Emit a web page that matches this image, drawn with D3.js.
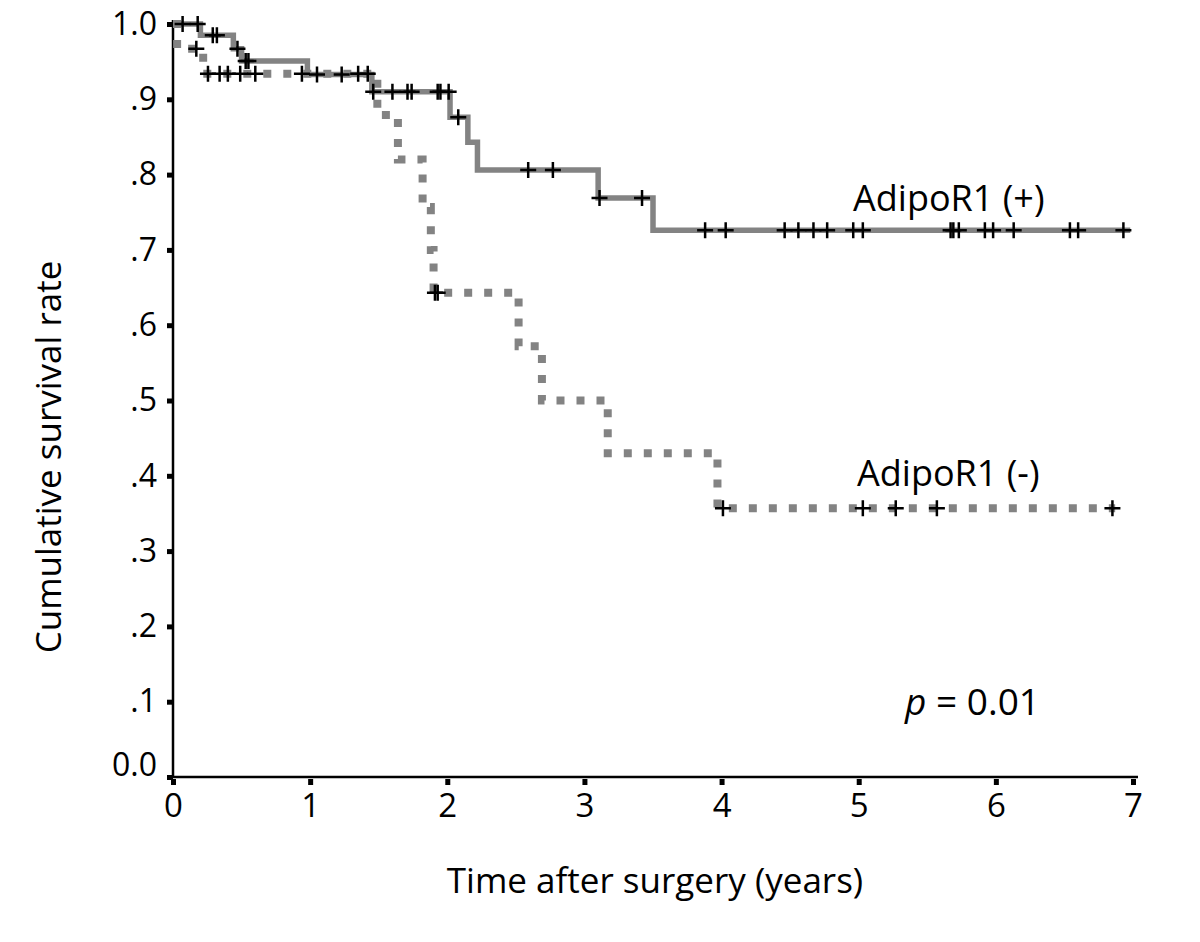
<!DOCTYPE html>
<html>
<head>
<meta charset="utf-8">
<script src="https://cdn.jsdelivr.net/npm/d3@7"></script>
<style>
  body { margin: 0; background: #fff; }
  text { font-family: "Open Sans", sans-serif; fill: #000; }
</style>
</head>
<body>
<svg id="km"></svg>
<script>
// AdipoR1 (+) group: step times (years) and survival after each step
const posTimes = [0, 0.20, 0.44, 0.50, 0.98, 1.45, 2.02, 2.15, 2.22, 3.10, 3.50];
const posSurv  = [1.0, 0.985, 0.967, 0.951, 0.933, 0.910, 0.876, 0.843, 0.806, 0.769, 0.726];
const posEnd = 6.98;
const posCensor = [0.07, 0.18, 0.29, 0.32, 0.47, 0.53, 0.55, 1.05, 1.23, 1.46, 1.60, 1.71, 1.74,
                   1.93, 1.95, 2.01, 2.08, 2.59, 2.77, 3.11, 3.42, 3.88, 4.03, 4.46, 4.56, 4.67,
                   4.77, 4.96, 5.03, 5.67, 5.69, 5.73, 5.92, 5.98, 6.13, 6.54, 6.60, 6.93];

// AdipoR1 (-) group
const negTimes = [0, 0.03, 0.22, 1.49, 1.64, 1.82, 1.88, 1.90, 2.52, 2.69, 3.17, 3.97];
const negSurv  = [1.0, 0.967, 0.934, 0.879, 0.820, 0.757, 0.700, 0.643, 0.572, 0.500, 0.430, 0.357];
const negEnd = 6.87;
const negCensor = [0.17, 0.255, 0.34, 0.40, 0.49, 0.60, 0.94, 1.35, 1.42, 1.91, 1.93,
                   4.01, 5.03, 5.27, 5.57, 6.85];

// axes
const xTicks = [0, 1, 2, 3, 4, 5, 6, 7];
const yTicks = [0, 0.1, 0.2, 0.3, 0.4, 0.5, 0.6, 0.7, 0.8, 0.9, 1.0];
const yTickLabels = ["0.0", ".1", ".2", ".3", ".4", ".5", ".6", ".7", ".8", ".9", "1.0"];

let km = {
    width: 1200,
    height: 942,
    xScale: d3.scaleLinear().domain([0, 7]).range([173, 1133]),
    yScale: d3.scaleLinear().domain([0, 1]).range([777, 24]),

    // survival value at time t, read from the step arrays
    survAt: (times, surv, t) => {
        let s = surv[0];
        for (let i = 0; i < times.length; i++) {
            if (times[i] <= t) s = surv[i];
        }
        return s;
    },

    drawAxis: (svg) => {
        let x = km.xScale, y = km.yScale;

        let axis_x = d3.axisBottom(x).tickValues(xTicks).tickSize(8).tickPadding(9).tickFormat(d => d);
        let gx = svg.append('g')
            .attr('transform', `translate(0, ${y(0)})`)
            .call(axis_x);
        gx.select('.domain').remove();
        gx.selectAll('.tick line').attr('stroke', '#000').attr('stroke-width', 5).attr('y1', 2);
        gx.selectAll('.tick text').attr('font-size', 33).attr('font-family', '"Open Sans", sans-serif');

        let axis_y = d3.axisLeft(y).tickValues(yTicks).tickSize(6).tickPadding(10)
            .tickFormat((d, i) => yTickLabels[i]);
        let gy = svg.append('g')
            .attr('transform', `translate(${x(0)}, 0)`)
            .call(axis_y);
        gy.select('.domain').remove();
        gy.selectAll('.tick line').attr('stroke', '#000').attr('stroke-width', 5);
        gy.selectAll('.tick text').attr('font-size', 32).attr('font-family', '"Open Sans", sans-serif');
        // the 0.0 label sits a bit above its tick
        gy.selectAll('.tick text').filter(d => d === 0).attr('dy', '-0.05em');

        // axis lines
        svg.append('line')
            .attr('x1', x(0)).attr('x2', 1138)
            .attr('y1', y(0)).attr('y2', y(0))
            .attr('stroke', '#000').attr('stroke-width', 2.5);
        svg.append('line')
            .attr('x1', x(0)).attr('x2', x(0))
            .attr('y1', y(0) + 1).attr('y2', y(1) - 4)
            .attr('stroke', '#000').attr('stroke-width', 2.5);

        // axis titles
        svg.append('text')
            .attr('x', 655).attr('y', 893)
            .attr('text-anchor', 'middle')
            .attr('font-size', 35)
            .text('Time after surgery (years)');
        svg.append('text')
            .attr('transform', 'translate(61, 457) rotate(-90)')
            .attr('text-anchor', 'middle')
            .attr('font-size', 35)
            .text('Cumulative survival rate');
    },

    drawCurve: (svg, times, surv, end, dashed) => {
        let pts = times.map((t, i) => [t, surv[i]]);
        pts.push([end, surv[surv.length - 1]]);
        let line = d3.line()
            .x(d => km.xScale(d[0]))
            .y(d => km.yScale(d[1]))
            .curve(d3.curveStepAfter);
        svg.append('path')
            .attr('d', line(pts))
            .attr('fill', 'none')
            .attr('stroke', '#838383')
            .attr('stroke-width', dashed ? 8 : 5.5)
            .attr('stroke-dasharray', dashed ? '8 12' : null);
    },

    // censoring ticks as black plus signs
    drawCensor: (svg, times, surv, marks) => {
        let h = 8;
        svg.append('g')
            .selectAll('path')
            .data(marks)
            .join('path')
            .attr('d', t => {
                let cx = km.xScale(t);
                let cy = km.yScale(km.survAt(times, surv, t));
                return `M${cx - h},${cy}H${cx + h}M${cx},${cy - h}V${cy + h}`;
            })
            .attr('stroke', '#000')
            .attr('stroke-width', 2.5)
            .attr('fill', 'none');
    },

    drawLabels: (svg) => {
        svg.append('text').attr('x', 853).attr('y', 211).attr('font-size', 36).text('AdipoR1 (+)');
        svg.append('text').attr('x', 857).attr('y', 486).attr('font-size', 36).text('AdipoR1 (-)');
        let p = svg.append('text').attr('x', 905).attr('y', 715).attr('font-size', 37);
        p.append('tspan').attr('font-style', 'italic').text('p');
        p.append('tspan').text(' = 0.01');
    },

    drawMain: () => {
        let svg = d3.select('#km')
            .attr('width', km.width)
            .attr('height', km.height);
        svg.append('rect').attr('width', km.width).attr('height', km.height).attr('fill', '#fff');

        km.drawAxis(svg);
        km.drawCurve(svg, negTimes, negSurv, negEnd, true);
        km.drawCurve(svg, posTimes, posSurv, posEnd, false);
        km.drawCensor(svg, negTimes, negSurv, negCensor);
        km.drawCensor(svg, posTimes, posSurv, posCensor);
        km.drawLabels(svg);
    }
};

km.drawMain();
</script>
</body>
</html>
